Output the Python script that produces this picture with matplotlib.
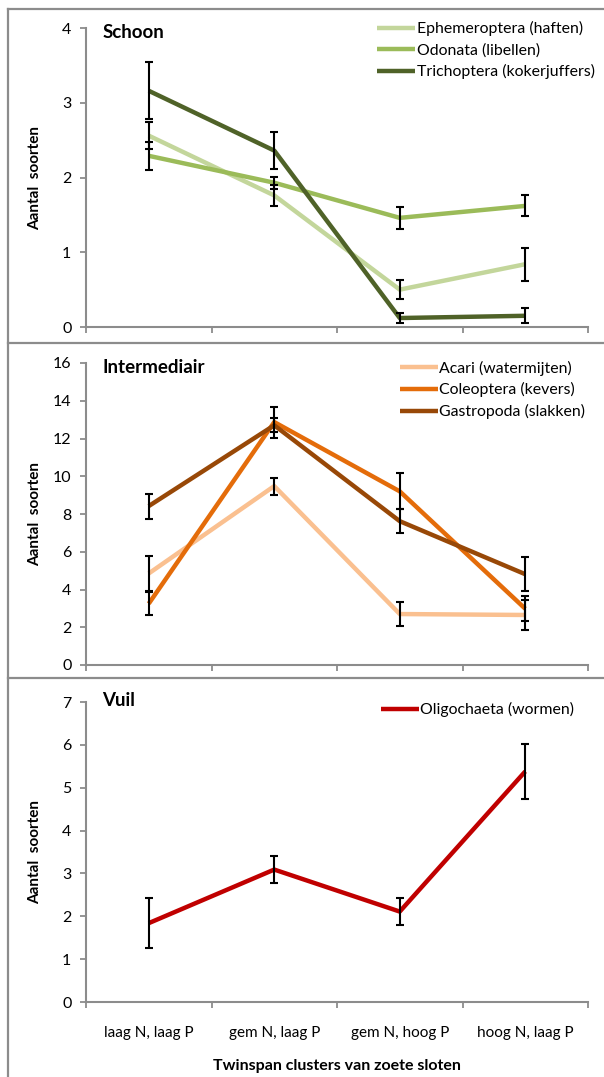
import matplotlib.pyplot as plt
from matplotlib.lines import Line2D

plt.rcParams['font.family'] = ['Lato', 'DejaVu Sans']

# Twinspan clusters (x-as)
clusters = ['laag N, laag P', 'gem N, laag P', 'gem N, hoog P', 'hoog N, laag P']

# Schoon
ephemeroptera = [2.56, 1.76, 0.50, 0.84]
ephemeroptera_err = [0.18, 0.14, 0.13, 0.22]
odonata = [2.29, 1.93, 1.46, 1.62]
odonata_err = [0.19, 0.08, 0.15, 0.14]
trichoptera = [3.16, 2.36, 0.12, 0.15]
trichoptera_err = [0.38, 0.25, 0.07, 0.10]

# Intermediair
acari = [4.85, 9.48, 2.70, 2.65]
acari_err = [0.95, 0.45, 0.66, 0.78]
coleoptera = [3.25, 12.87, 9.20, 2.98]
coleoptera_err = [0.60, 0.82, 0.95, 0.65]
gastropoda = [8.42, 12.70, 7.62, 4.81]
gastropoda_err = [0.66, 0.37, 0.62, 0.90]

# Vuil
oligochaeta = [1.84, 3.09, 2.11, 5.38]
oligochaeta_err = [0.58, 0.31, 0.32, 0.65]

panelen = [
    {
        'titel': 'Schoon', 'ymax': 4, 'ystap': 1, 'titel_y': 1.012,
        'reeksen': [
            ('Ephemeroptera (haften)', ephemeroptera, ephemeroptera_err, '#c3d69b'),
            ('Odonata (libellen)', odonata, odonata_err, '#9bbb59'),
            ('Trichoptera (kokerjuffers)', trichoptera, trichoptera_err, '#4f6228'),
        ],
        'legenda': (0.58, 1.022),
    },
    {
        'titel': 'Intermediair', 'ymax': 16, 'ystap': 2, 'titel_y': 1.012,
        'reeksen': [
            ('Acari (watermijten)', acari, acari_err, '#fac090'),
            ('Coleoptera (kevers)', coleoptera, coleoptera_err, '#e46c0a'),
            ('Gastropoda (slakken)', gastropoda, gastropoda_err, '#984807'),
        ],
        'legenda': (0.625, 1.008),
    },
    {
        'titel': 'Vuil', 'ymax': 7, 'ystap': 1, 'titel_y': 1.035,
        'reeksen': [
            ('Oligochaeta (wormen)', oligochaeta, oligochaeta_err, '#c00000'),
        ],
        'legenda': (0.587, 1.0),
    },
]

grijs = '#8c8c8c'
fig = plt.figure(figsize=(6.04, 10.77), dpi=100)

# posities in pixels: (boven, onder) van elk assenstelsel
posities = [(28, 327), (363, 665), (702, 1002)]
links, rechts = 86, 588
W, H = 604, 1077

x = [i + 0.5 for i in range(len(clusters))]

for i, (paneel, (top, bot)) in enumerate(zip(panelen, posities)):
    ax = fig.add_axes([links / W, 1 - bot / H, (rechts - links) / W, (bot - top) / H])
    for naam, waarden, fout, kleur in paneel['reeksen']:
        ax.plot(x, waarden, color=kleur, lw=3.2, label=naam, solid_capstyle='butt', zorder=2)
    for naam, waarden, fout, kleur in paneel['reeksen']:
        ax.errorbar(x, waarden, yerr=fout, fmt='none', ecolor='black', elinewidth=1.5,
                    capsize=3, capthick=1.5, zorder=3)

    ax.set_xlim(0, 4)
    ax.set_ylim(0, paneel['ymax'])
    ax.set_yticks(range(0, paneel['ymax'] + 1, paneel['ystap']))
    ax.set_xticks(range(0, 5))
    ax.set_xticklabels([])
    ax.set_xticks(x, minor=True)
    if i == 2:
        ax.set_xticklabels(clusters, minor=True)
        ax.set_xlabel('Twinspan clusters van zoete sloten', fontsize=11.5, fontweight='bold',
                      labelpad=14)
    ax.tick_params(axis='x', which='minor', length=0, pad=17, labelsize=11)
    ax.tick_params(axis='both', which='major', direction='out', length=4.5, width=1.3,
                   color=grijs, labelsize=11.5, pad=6)

    for kant in ['top', 'right']:
        ax.spines[kant].set_visible(False)
    for kant in ['left', 'bottom']:
        ax.spines[kant].set_color(grijs)
        ax.spines[kant].set_linewidth(1.5)

    ax.set_ylabel('Aantal  soorten', fontsize=11, fontweight='bold')
    ax.yaxis.set_label_coords(-0.088, 0.5)
    ax.text(0.032, paneel['titel_y'], paneel['titel'], transform=ax.transAxes, fontsize=13.5,
            fontweight='bold', va='top', ha='left')

    ax.legend(loc='upper left', bbox_to_anchor=paneel['legenda'], frameon=False,
              fontsize=11.4, handlelength=2.4, handletextpad=0.1, labelspacing=0.42,
              borderaxespad=0, borderpad=0)

# kaders rond de panelen
for y in [9, 343, 678]:
    fig.add_artist(Line2D([8 / W, 1], [1 - y / H, 1 - y / H], color=grijs, lw=1.6,
                          transform=fig.transFigure))
fig.add_artist(Line2D([8 / W, 8 / W], [1 - 9 / H, 0], color=grijs, lw=1.6,
                      transform=fig.transFigure))

fig.savefig('out.png', dpi=100)
